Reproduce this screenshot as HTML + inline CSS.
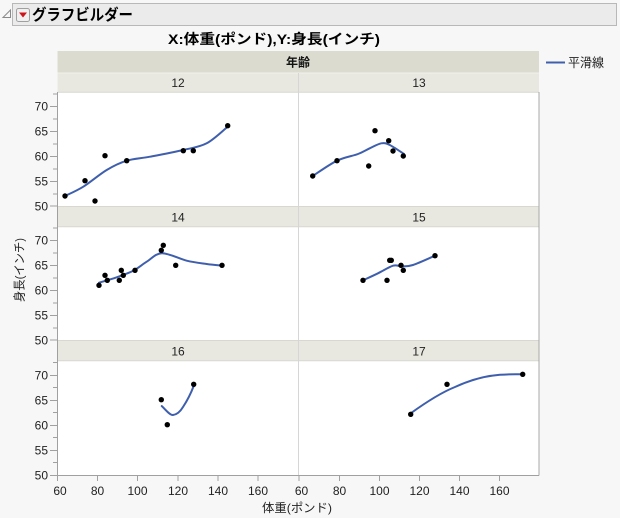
<!DOCTYPE html>
<html><head><meta charset="utf-8"><style>
html,body{margin:0;padding:0;background:#f7f7f7;}
svg{display:block;font-family:"Liberation Sans","Noto Sans CJK JP",sans-serif;}
</style></head><body>
<svg width="620" height="518" viewBox="0 0 620 518" xmlns="http://www.w3.org/2000/svg">
<rect x="0" y="0" width="620" height="518" fill="#f7f7f7"/>
<!-- title bar -->
<polygon points="3,17.5 10.5,17.5 10.5,10" fill="none" stroke="#8a8a8a" stroke-width="1"/>
<rect x="12.5" y="3.5" width="604" height="22" fill="#ebebeb" stroke="#b8b8b8"/>
<rect x="16.5" y="8.5" width="13" height="13" rx="2" fill="#f0f0f0" stroke="#a0a0a0"/>
<polygon points="19,12.5 27,12.5 23,17.5" fill="#d0121b"/>
<text x="32" y="20" font-size="15.5" font-weight="bold" fill="#000" textLength="101" lengthAdjust="spacingAndGlyphs">グラフビルダー</text>
<!-- subtitle -->
<text x="168" y="44" font-size="14" font-weight="bold" fill="#000" textLength="212" lengthAdjust="spacingAndGlyphs">X:体重(ポンド),Y:身長(インチ)</text>
<!-- legend -->
<line x1="546" y1="62.5" x2="565" y2="62.5" stroke="#3f5fad" stroke-width="2"/>
<text x="568" y="67" font-size="12.5" fill="#222" textLength="36" lengthAdjust="spacingAndGlyphs">平滑線</text>
<!-- header bands -->
<rect x="57.5" y="51" width="481.5" height="22" fill="#dcdbcf"/>
<text x="298" y="66.5" font-size="12" font-weight="bold" text-anchor="middle" fill="#111">年齢</text>
<rect x="57.5" y="73" width="240.5" height="19.5" fill="#e8e8e0"/>
<rect x="299" y="73" width="240" height="19.5" fill="#e8e8e0"/>
<line x1="57.5" y1="73" x2="539" y2="73" stroke="#f2f2ec" stroke-width="1"/>
<text x="178" y="87" font-size="12" text-anchor="middle" fill="#222">12</text>
<text x="419" y="87" font-size="12" text-anchor="middle" fill="#222">13</text>
<!-- plot areas -->
<rect x="57.5" y="92.5" width="240.5" height="113.5" fill="#fff"/>
<rect x="299" y="92.5" width="240" height="113.5" fill="#fff"/>
<rect x="57.5" y="206.5" width="240.5" height="20.5" fill="#e8e8e0"/>
<rect x="299" y="206.5" width="240" height="20.5" fill="#e8e8e0"/>
<text x="178" y="221.5" font-size="12" text-anchor="middle" fill="#222">14</text>
<text x="419" y="221.5" font-size="12" text-anchor="middle" fill="#222">15</text>
<rect x="57.5" y="227" width="240.5" height="113" fill="#fff"/>
<rect x="299" y="227" width="240" height="113" fill="#fff"/>
<rect x="57.5" y="340.5" width="240.5" height="20.5" fill="#e8e8e0"/>
<rect x="299" y="340.5" width="240" height="20.5" fill="#e8e8e0"/>
<text x="178" y="355.5" font-size="12" text-anchor="middle" fill="#222">16</text>
<text x="419" y="355.5" font-size="12" text-anchor="middle" fill="#222">17</text>
<rect x="57.5" y="361" width="240.5" height="114" fill="#fff"/>
<rect x="299" y="361" width="240" height="114" fill="#fff"/>
<!-- separators -->
<line x1="57.5" y1="206.5" x2="539" y2="206.5" stroke="#d8d8d0"/>
<line x1="57.5" y1="226.8" x2="539" y2="226.8" stroke="#d8d8d0"/>
<line x1="57.5" y1="340.5" x2="539" y2="340.5" stroke="#d8d8d0"/>
<line x1="57.5" y1="360.8" x2="539" y2="360.8" stroke="#d8d8d0"/>
<line x1="57.5" y1="92.3" x2="539" y2="92.3" stroke="#d8d8d0"/>
<line x1="298.5" y1="73" x2="298.5" y2="475" stroke="#d6d6d6"/>
<line x1="539" y1="92" x2="539" y2="475.5" stroke="#a8a8a8"/>
<!-- y axis -->
<g stroke="#a0a0a0" stroke-width="1">
<line x1="57.5" y1="92" x2="57.5" y2="475.5"/>
<line x1="57.5" y1="475.5" x2="539" y2="475.5"/>
<!-- row1 -->
<line x1="50" y1="106.5" x2="57.5" y2="106.5"/><line x1="50" y1="131.5" x2="57.5" y2="131.5"/><line x1="50" y1="156.5" x2="57.5" y2="156.5"/><line x1="50" y1="181.5" x2="57.5" y2="181.5"/><line x1="50" y1="206" x2="57.5" y2="206"/>
<line x1="53" y1="94" x2="57.5" y2="94"/><line x1="53" y1="119" x2="57.5" y2="119"/><line x1="53" y1="144" x2="57.5" y2="144"/><line x1="53" y1="169" x2="57.5" y2="169"/><line x1="53" y1="194" x2="57.5" y2="194"/>
<!-- row2 -->
<line x1="50" y1="240.5" x2="57.5" y2="240.5"/><line x1="50" y1="265.5" x2="57.5" y2="265.5"/><line x1="50" y1="290.5" x2="57.5" y2="290.5"/><line x1="50" y1="315.5" x2="57.5" y2="315.5"/><line x1="50" y1="340" x2="57.5" y2="340"/>
<line x1="53" y1="228" x2="57.5" y2="228"/><line x1="53" y1="253" x2="57.5" y2="253"/><line x1="53" y1="278" x2="57.5" y2="278"/><line x1="53" y1="303" x2="57.5" y2="303"/><line x1="53" y1="328" x2="57.5" y2="328"/>
<!-- row3 -->
<line x1="50" y1="375.5" x2="57.5" y2="375.5"/><line x1="50" y1="400.5" x2="57.5" y2="400.5"/><line x1="50" y1="425.5" x2="57.5" y2="425.5"/><line x1="50" y1="450.5" x2="57.5" y2="450.5"/><line x1="50" y1="475.5" x2="57.5" y2="475.5"/>
<line x1="53" y1="362.5" x2="57.5" y2="362.5"/><line x1="53" y1="387.5" x2="57.5" y2="387.5"/><line x1="53" y1="412.5" x2="57.5" y2="412.5"/><line x1="53" y1="437.5" x2="57.5" y2="437.5"/><line x1="53" y1="462.5" x2="57.5" y2="462.5"/>
<!-- x ticks -->
<line x1="57.5" y1="475.5" x2="57.5" y2="481"/><line x1="97.5" y1="475.5" x2="97.5" y2="481"/><line x1="137.5" y1="475.5" x2="137.5" y2="481"/><line x1="178" y1="475.5" x2="178" y2="481"/><line x1="218" y1="475.5" x2="218" y2="481"/><line x1="258" y1="475.5" x2="258" y2="481"/>
<line x1="299" y1="475.5" x2="299" y2="481"/><line x1="339.5" y1="475.5" x2="339.5" y2="481"/><line x1="379.5" y1="475.5" x2="379.5" y2="481"/><line x1="419.5" y1="475.5" x2="419.5" y2="481"/><line x1="459.5" y1="475.5" x2="459.5" y2="481"/><line x1="499.5" y1="475.5" x2="499.5" y2="481"/>
</g>
<g font-size="12" fill="#222" text-anchor="end">
<text x="48" y="110.5">70</text><text x="48" y="135.5">65</text><text x="48" y="160.5">60</text><text x="48" y="185.5">55</text><text x="48" y="210.5">50</text>
<text x="48" y="244.5">70</text><text x="48" y="269.5">65</text><text x="48" y="294.5">60</text><text x="48" y="319.5">55</text><text x="48" y="344.5">50</text>
<text x="48" y="379.5">70</text><text x="48" y="404.5">65</text><text x="48" y="429.5">60</text><text x="48" y="454.5">55</text><text x="48" y="479.5">50</text>
</g>
<g font-size="12" fill="#222" text-anchor="middle">
<text x="60" y="495">60</text><text x="97.5" y="495">80</text><text x="137.5" y="495">100</text><text x="178" y="495">120</text><text x="218" y="495">140</text><text x="258" y="495">160</text>
<text x="301.5" y="495">60</text><text x="339.5" y="495">80</text><text x="379.5" y="495">100</text><text x="419.5" y="495">120</text><text x="459.5" y="495">140</text><text x="499.5" y="495">160</text>
</g>
<text x="297" y="512" font-size="12" fill="#222" text-anchor="middle" textLength="70" lengthAdjust="spacingAndGlyphs">体重(ポンド)</text>
<text transform="translate(23.5,270) rotate(-90)" font-size="12" fill="#222" text-anchor="middle" textLength="64" lengthAdjust="spacingAndGlyphs">身長(インチ)</text>
<!-- curves -->
<g fill="none" stroke="#3f5fad" stroke-width="2" stroke-linecap="round" stroke-linejoin="round">
<path d="M65,196 C68.05,194.45 76.35,191.03 83.3,186.7 C90.25,182.37 99.47,174.33 106.7,170 C113.93,165.67 119.48,162.92 126.7,160.7 C133.92,158.48 140.57,158.48 150,156.7 C159.43,154.92 173.85,152.23 183.3,150 C192.75,147.77 199.3,147.18 206.7,143.3 C214.1,139.42 224.2,129.47 227.7,126.7"/>
<path d="M312.7,176 C316.75,173.45 329.45,164.37 337,160.7 C344.55,157.03 352.55,156.07 358,154 C363.45,151.93 365.82,150.08 369.7,148.3 C373.58,146.52 377.97,143.85 381.3,143.3 C384.63,142.75 385.92,143.22 389.7,145 C393.48,146.78 401.62,152.5 404,154"/>
<path d="M99,282.7 C101.95,281.8 110.98,279.3 116.7,277.3 C122.42,275.3 128.3,273.3 133.3,270.7 C138.3,268.1 141.92,264.62 146.7,261.7 C151.48,258.78 155.33,253.37 162,253.2 C168.67,253.03 179.25,258.9 186.7,260.7 C194.15,262.5 200.82,263.17 206.7,264 C212.58,264.83 219.45,265.42 222,265.7"/>
<path d="M363,280.3 C365.5,279.13 373,275.73 378,273.3 C383,270.87 389.12,266.87 393,265.7 C396.88,264.53 397.97,266.18 401.3,266.3 C404.63,266.42 407.38,266.77 413,265 C418.62,263.23 431.33,257.25 435,255.7"/>
<path d="M161.7,406 C166,410 170,415.5 173,415 C177,414.5 180,412 183,407 C187,401 191,393 193.7,386"/>
<path d="M410.7,413.3 C425,403 440,393 455,387 C470,380 485,376 500,374.8 C510,374 518,374.2 522.7,374.3"/>
</g>
<!-- points -->
<g fill="#000">
<circle cx="65" cy="196" r="2.7"/><circle cx="85" cy="180.7" r="2.7"/><circle cx="95" cy="201" r="2.7"/><circle cx="105" cy="155.7" r="2.7"/><circle cx="126.7" cy="160.7" r="2.7"/><circle cx="183.3" cy="150.7" r="2.7"/><circle cx="193.3" cy="150.7" r="2.7"/><circle cx="227.7" cy="125.7" r="2.7"/>
<circle cx="312.7" cy="176" r="2.7"/><circle cx="337" cy="160.7" r="2.7"/><circle cx="368.7" cy="166" r="2.7"/><circle cx="375" cy="130.7" r="2.7"/><circle cx="388.7" cy="140.7" r="2.7"/><circle cx="393" cy="151" r="2.7"/><circle cx="403.3" cy="156" r="2.7"/>
<circle cx="99" cy="285.3" r="2.7"/><circle cx="105" cy="275.3" r="2.7"/><circle cx="107.3" cy="280.3" r="2.7"/><circle cx="119.3" cy="280.3" r="2.7"/><circle cx="121.3" cy="270.3" r="2.7"/><circle cx="123.3" cy="275.3" r="2.7"/><circle cx="135" cy="270.3" r="2.7"/><circle cx="161.3" cy="250.3" r="2.7"/><circle cx="163.3" cy="245.3" r="2.7"/><circle cx="175.7" cy="265.3" r="2.7"/><circle cx="222" cy="265.3" r="2.7"/>
<circle cx="363" cy="280.3" r="2.7"/><circle cx="387" cy="280.3" r="2.7"/><circle cx="389.7" cy="260.3" r="2.7"/><circle cx="391.3" cy="260.3" r="2.7"/><circle cx="401" cy="265.3" r="2.7"/><circle cx="403.3" cy="270.3" r="2.7"/><circle cx="435" cy="255.7" r="2.7"/>
<circle cx="161.3" cy="399.7" r="2.7"/><circle cx="167.3" cy="424.7" r="2.7"/><circle cx="193.7" cy="384.3" r="2.7"/>
<circle cx="410.7" cy="414.3" r="2.7"/><circle cx="447" cy="384.3" r="2.7"/><circle cx="522.7" cy="374.3" r="2.7"/>
</g>
</svg>
</body></html>
